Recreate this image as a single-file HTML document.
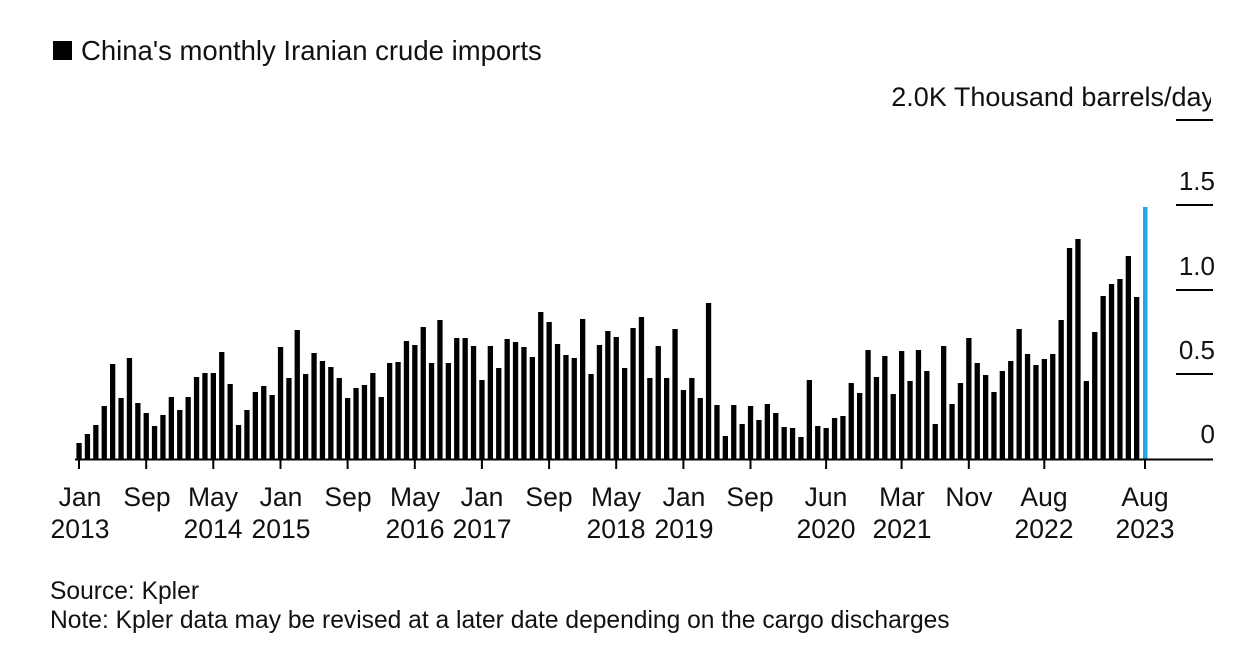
<!DOCTYPE html>
<html><head><meta charset="utf-8"><style>
html,body{margin:0;padding:0;background:#fff;}
svg{display:block;font-family:"Liberation Sans",Arial,sans-serif;}
</style></head><body>
<svg id="c" width="1249" height="662" viewBox="0 0 1249 662" xmlns="http://www.w3.org/2000/svg">
<rect width="1249" height="662" fill="#fff"/>
<rect x="53" y="41" width="19" height="19" fill="#000"/>
<text x="81" y="60" font-size="27.5" fill="#111">China's monthly Iranian crude imports</text>
<svg x="0" y="0" width="1211" height="130" overflow="hidden"><text x="1215" y="106" font-size="27" fill="#111" text-anchor="end">2.0K Thousand barrels/day</text></svg>
<g stroke="#000" stroke-width="2">
<line x1="1176" y1="120" x2="1213" y2="120"/>
<line x1="1176" y1="205" x2="1213" y2="205"/>
<line x1="1176" y1="290" x2="1213" y2="290"/>
<line x1="1176" y1="374" x2="1213" y2="374"/>
</g>
<g font-size="26" fill="#111" text-anchor="end">
<text x="1215" y="190">1.5</text>
<text x="1215" y="275">1.0</text>
<text x="1215" y="359">0.5</text>
<text x="1215" y="443">0</text>
</g>
<g id="bars" fill="#000"></g>
<line x1="75" y1="459.5" x2="1213" y2="459.5" stroke="#000" stroke-width="2"/>
<g id="ticks" stroke="#000" stroke-width="2"></g>
<g font-size="26.5" fill="#111" text-anchor="middle">
<text x="80" y="506">Jan</text><text x="80" y="538">2013</text>
<text x="147" y="506">Sep</text>
<text x="213" y="506">May</text><text x="213" y="538">2014</text>
<text x="281" y="506">Jan</text><text x="281" y="538">2015</text>
<text x="348" y="506">Sep</text>
<text x="415" y="506">May</text><text x="415" y="538">2016</text>
<text x="482" y="506">Jan</text><text x="482" y="538">2017</text>
<text x="549" y="506">Sep</text>
<text x="616" y="506">May</text><text x="616" y="538">2018</text>
<text x="684" y="506">Jan</text><text x="684" y="538">2019</text>
<text x="750" y="506">Sep</text>
<text x="826" y="506">Jun</text><text x="826" y="538">2020</text>
<text x="902" y="506">Mar</text><text x="902" y="538">2021</text>
<text x="969" y="506">Nov</text>
<text x="1044" y="506">Aug</text><text x="1044" y="538">2022</text>
<text x="1145" y="506">Aug</text><text x="1145" y="538">2023</text>
</g>
<g font-size="24.6" fill="#111">
<text x="50" y="599">Source: Kpler</text>
<text x="50" y="628">Note: Kpler data may be revised at a later date depending on the cargo discharges</text>
</g>
</svg>
<script>
var tops=[443,434,425,406,364,398,358,403,413,426,415,397,410,397,377,373,373,352,384,425,410,392,386,395,347,378,330,374,353,361,367,378,398,388,385,373,397,363,362,341,345,327,363,320,363,338,338,346,380,346,368,339,342,347,357,312,322,344,355,358,319,374,345,331,337,368,328,317,378,346,378,329,390,378,398,303,405,436,405,424,406,420,404,413,427,428,437,380,426,428,418,416,383,393,350,377,356,394,351,381,350,371,424,346,404,383,338,363,375,392,371,361,329,354,365,359,354,320,248,239,381,332,296,284,279,256,297];
var g=document.getElementById('bars'),s='';
for(var i=0;i<tops.length;i++){var x=79+8.394*i;s+='<rect x="'+(x-2.6).toFixed(1)+'" y="'+tops[i]+'" width="5.3" height="'+(459-tops[i])+'"/>';}
s+='<rect x="1143" y="207" width="4.5" height="253" fill="#1fa9e6"/>';
g.innerHTML=s;
var t=[0,8,16,24,32,40,48,56,64,72,80,89,98,106,115,127],ts='';
for(var j=0;j<t.length;j++){var x=(79+8.394*t[j]).toFixed(1);ts+='<line x1="'+x+'" y1="459" x2="'+x+'" y2="469"/>';}
document.getElementById('ticks').innerHTML=ts;
</script>
</body></html>
